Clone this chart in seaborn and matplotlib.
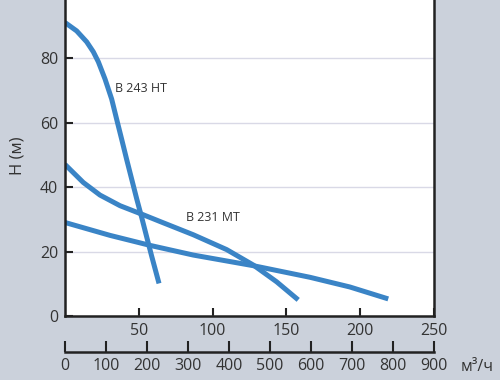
import pandas as pd
import matplotlib.pyplot as plt
import seaborn as sns

sns.set_style("ticks")
plt.rcParams['font.family'] = ['Open Sans', 'DejaVu Sans']

# curves: Q in l/s, H in m
q_243 = [0, 7.9, 14.7, 19.2, 22.6, 27.1, 31.6, 35, 38.4, 41.8, 45.2, 48.6,
         52, 55.3, 58.7, 63.7]
h_243 = [91, 88.4, 85, 81.9, 78.8, 73.5, 67.3, 61, 54.8, 48.5, 42.4, 36.3,
         30.5, 24.6, 18.6, 10.1]
q_231 = [0, 12.4, 23.7, 37.3, 53, 64.4, 86.9, 109.5, 127.6, 143.4, 158]
h_231 = [47, 41.4, 37.5, 34.2, 31.4, 29.3, 25.2, 20.6, 15.8, 10.6, 5]
q_low = [0, 30.5, 57.6, 86.9, 127.6, 166, 193, 219]
h_low = [29, 25, 21.9, 18.9, 15.6, 12, 9, 5.3]

x_ticks = [50, 100, 150, 200, 250]
y_ticks = [0, 20, 40, 60, 80, 100]
m3h_ticks = [0, 100, 200, 300, 400, 500, 600, 700, 800, 900]

df = pd.concat([
    pd.DataFrame({"Q": q_243, "H": h_243, "pump": "B 243 HT"}),
    pd.DataFrame({"Q": q_231, "H": h_231, "pump": "B 231 MT"}),
    pd.DataFrame({"Q": q_low, "H": h_low, "pump": "low"}),
])

blue = "#3a84c6"
txt = "#333333"
fig = plt.figure(figsize=(5, 3.8), dpi=100, facecolor="#cbd1db")
ax = fig.add_axes([0.13, 0.1684, 0.738, 0.8487])
ax.set_facecolor("white")

sns.lineplot(data=df, x="Q", y="H", hue="pump", palette=[blue] * 3,
             sort=False, legend=False, linewidth=3.6, ax=ax,
             solid_capstyle="butt", solid_joinstyle="round")

ax.set_xlim(0, 250)
ax.set_ylim(0, 100)
ax.set_xticks(x_ticks)
ax.set_yticks(y_ticks)
ax.yaxis.grid(True, color="#d9d9e6", linewidth=1)
ax.set_axisbelow(True)
ax.tick_params(direction="in", length=6, width=1.5, labelsize=11.5,
               colors="#222222", labelcolor=txt, pad=5)
for s in ax.spines.values():
    s.set_linewidth(1.8)
    s.set_color("#222222")
ax.set_xlabel("")
ax.set_ylabel("")

sec = ax.secondary_xaxis(-0.1116, functions=(lambda q: q * 3.6, lambda m: m / 3.6))
sec.set_xticks(m3h_ticks)
sec.tick_params(direction="in", length=8, width=1.5, labelsize=11.5,
                colors="#222222", labelcolor=txt, pad=4)
sec.spines["bottom"].set_linewidth(1.8)
sec.spines["bottom"].set_color("#222222")

ax.text(34, 70.5, "B 243 HT", fontsize=9, color=txt, va="center")
ax.text(82, 30.4, "B 231 MT", fontsize=9, color=txt, va="center")

fig.text(18 / 500, 1 - 156 / 380, "H (м)", rotation=90, fontsize=12,
         color=txt, ha="center", va="center")
fig.text(477 / 500, 1 - 367 / 380, "м³/ч", fontsize=11.5, color=txt,
         ha="center", va="center")

fig.savefig("out.png", dpi=100, facecolor=fig.get_facecolor())
